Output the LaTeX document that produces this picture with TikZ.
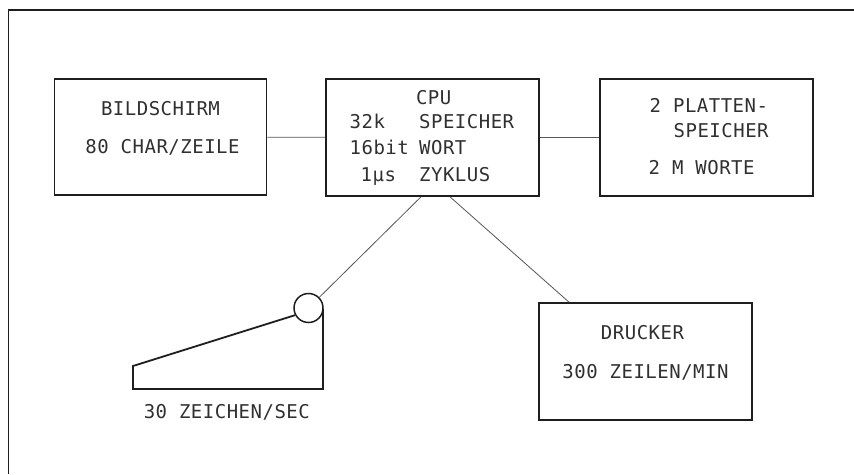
\documentclass[tikz,border=0pt]{standalone}
\usepackage{fontspec}
\newfontfamily\plotfont[LetterSpace=2.6]{DejaVu Sans Mono}
\definecolor{ink}{HTML}{1E1E1E}
\definecolor{txt}{HTML}{303030}
\definecolor{wire}{HTML}{555555}
\tikzset{
  unitbox/.style={draw=ink, line width=1.7pt, rectangle, inner sep=0pt, minimum width=212pt, minimum height=116pt},
  lbl/.style={inner sep=0pt, text=txt, font=\plotfont\fontsize{19}{19}\selectfont},
  wireline/.style={draw=wire, line width=0.8pt},
  termline/.style={draw=ink, line width=1.8pt, line join=miter},
  framed/.style={draw=ink, line width=1.8pt}
}
\begin{document}
\begin{tikzpicture}[x=1pt, y=-1pt]
\useasboundingbox (0,0) rectangle (854,474);
% outer frame (left and top edges visible)
\draw[framed] (8.5,474) -- (8.5,10) -- (854,10);

% boxes
\node[unitbox] (bild) at (160.5,137) {};
\node[unitbox, minimum width=213pt, minimum height=117pt] (cpu) at (432.5,137.5) {};
\node[unitbox, minimum width=213pt, minimum height=117pt] (platte) at (706.5,137.5) {};
\node[unitbox, minimum width=213pt, minimum height=117pt] (druck) at (645.5,361.5) {};
\node[circle, draw=ink, line width=1.5pt, minimum size=29pt, inner sep=0pt] (kb) at (308.5,308) {};

% texts
\node[lbl, anchor=base] (t1) at (160.5,115.7) {BILDSCHIRM};
\node[lbl, anchor=base] (t2) at (162.5,153.3) {80 CHAR/ZEILE};
\node[lbl, anchor=base] (t3) at (433.7,104.3) {CPU};
\node[lbl, anchor=base west] (t4) at (349.5,128.3) {32k};
\node[lbl, anchor=base west] (t5) at (419,128.3) {SPEICHER};
\node[lbl, anchor=base west] (t6) at (349.5,154) {16bit};
\node[lbl, anchor=base west] (t7) at (419,154) {WORT};
\node[lbl, anchor=base west] (t8) at (360.5,181) {1µs};
\node[lbl, anchor=base west] (t9) at (419,181) {ZYKLUS};
\node[lbl, anchor=base west] (t10) at (649.5,112.7) {2 PLATTEN-};
\node[lbl, anchor=base west] (t11) at (673.5,137.7) {SPEICHER};
\node[lbl, anchor=base west] (t12) at (648.5,174.3) {2 M WORTE};
\node[lbl, anchor=base] (t13) at (642.5,339.3) {DRUCKER};
\node[lbl, anchor=base] (t14) at (645.5,378.7) {300 ZEILEN/MIN};
\node[lbl, anchor=base] (t15) at (226.8,418) {30 ZEICHEN/SEC};

% connectors
\draw[wireline] (bild) -- (cpu);
\draw[wireline] (cpu) -- (platte);
\draw[wireline] ([xshift=-11.5pt]cpu.south) -- (kb);
\draw[wireline] ([xshift=17.5pt]cpu.south) -- ([xshift=-76.5pt]druck.north);

% terminal body
\draw[termline] (kb.208) -- (133,366) -- (133,389) -- (323,389) -- (323,309);
\end{tikzpicture}
\end{document}
